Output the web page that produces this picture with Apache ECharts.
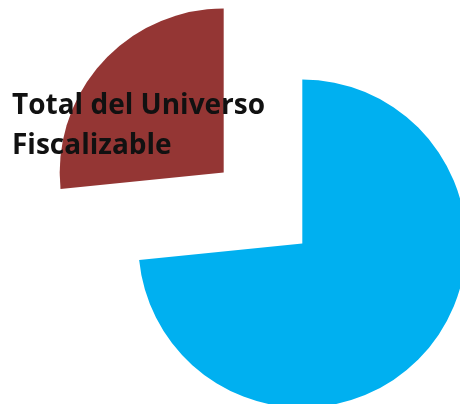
<!DOCTYPE html>
<html><head><meta charset="utf-8">
<script src="https://cdn.jsdelivr.net/npm/echarts@6/dist/echarts.min.js"></script>
<style>html,body{margin:0;padding:0;background:#fff}#c{width:460px;height:404px}</style>
</head><body><div id="c"></div>
<script>
var categories = ['Otros', 'Total del Universo Fiscalizable'];
var values = [73.4, 26.6];
var colors = ['#00B0F0', '#943634'];
var labelLines = ['Total del Universo', 'Fiscalizable'];

var chart = echarts.init(document.getElementById('c'), null, {renderer: 'canvas'});
chart.setOption({
  animation: false,
  graphic: [{
    type: 'text',
    left: 12,
    top: 86,
    z: 100,
    style: {
      text: labelLines.join('\n'),
      fill: '#111',
      fontFamily: 'Open Sans',
      fontWeight: 'bold',
      fontSize: 28,
      lineHeight: 40
    }
  }],
  series: [{
    type: 'pie',
    center: [263, 208],
    radius: 164,
    startAngle: 90,
    clockwise: true,
    selectedMode: 'multiple',
    selectedOffset: 53,
    emphasis: {disabled: true},
    label: {show: false},
    labelLine: {show: false},
    data: categories.map(function (c, i) {
      return {name: c, value: values[i], selected: true, itemStyle: {color: colors[i]}};
    })
  }]
});
</script></body></html>
